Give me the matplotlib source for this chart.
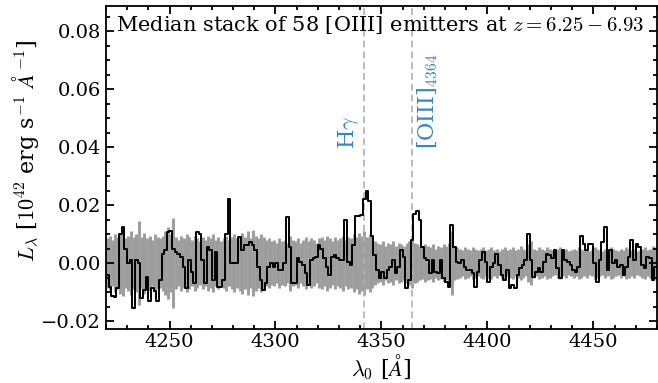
import numpy as np
import matplotlib
matplotlib.use("Agg")
import matplotlib.pyplot as plt
from matplotlib.ticker import MultipleLocator

plt.rcParams['font.family'] = ['DejaVu Serif']
plt.rcParams['mathtext.fontset'] = 'cm'

# stacked spectrum, rest-frame, 1.25 A bins starting at 4220.6 A
wave_start = 4220.6
wave_step = 1.25

flux = [
    -0.0041, -0.0083, -0.0115, -0.0118, -0.0086, 0.0101, 0.0124, 0.0050, 0.0000, 0.0010,
    -0.0155, 0.0010, 0.0000, -0.0120, -0.0092, -0.0047, -0.0132, -0.0086, -0.0098, -0.0132,
    -0.0058, 0.0033, 0.0044, 0.0107, 0.0112, 0.0050, 0.0039, 0.0033, 0.0022, -0.0013,
    -0.0086, 0.0010, -0.0030, -0.0069, 0.0107, 0.0101, 0.0010, -0.0069, 0.0056, 0.0044,
    -0.0058, 0.0039, -0.0081, -0.0081, -0.0058, 0.0101, 0.0220, 0.0000, 0.0000, 0.0000,
    0.0090, 0.0044, 0.0061, 0.0061, 0.0073, 0.0061, 0.0044, -0.0013, -0.0058, -0.0092,
    -0.0069, -0.0013, 0.0000, -0.0013, 0.0000, -0.0024, -0.0024, 0.0000, 0.0158, 0.0056,
    -0.0069, -0.0069, 0.0016, 0.0005, -0.0007, -0.0035, -0.0075, 0.0010, 0.0016, 0.0022,
    0.0061, 0.0050, 0.0016, -0.0013, -0.0041, 0.0022, 0.0027, 0.0016, 0.0010, 0.0010,
    0.0147, 0.0005, -0.0007, 0.0061, 0.0164, 0.0164, 0.0165, 0.0220, 0.0249, 0.0215,
    0.0095, 0.0027, -0.0024, -0.0052, -0.0030, -0.0052, -0.0024, -0.0013, 0.0010, -0.0035,
    -0.0013, 0.0044, 0.0022, -0.0086, -0.0058, 0.0078, 0.0169, 0.0180, 0.0147, 0.0056,
    0.0016, 0.0010, -0.0035, 0.0010, -0.0030, -0.0035, 0.0010, -0.0052, -0.0064, -0.0081,
    0.0130, 0.0056, 0.0005, -0.0001, 0.0010, -0.0013, -0.0024, -0.0024, -0.0035, -0.0081,
    -0.0030, 0.0010, 0.0039, 0.0005, -0.0064, -0.0015, 0.0000, 0.0033, -0.0007, -0.0041,
    -0.0058, -0.0024, -0.0086, -0.0075, -0.0086, -0.0041, -0.0018, -0.0007, 0.0010, 0.0101,
    0.0010, -0.0047, -0.0030, -0.0018, -0.0030, 0.0005, 0.0033, 0.0027, 0.0016, 0.0044,
    -0.0018, -0.0052, 0.0044, 0.0010, 0.0005, -0.0007, -0.0024, -0.0030, -0.0013, 0.0095,
    0.0067, 0.0044, 0.0067, 0.0067, 0.0000, -0.0064, 0.0010, 0.0073, 0.0124, -0.0024,
    0.0044, 0.0000, 0.0010, -0.0013, -0.0007, -0.0041, -0.0013, 0.0022, 0.0078, 0.0010,
    0.0067, 0.0056, -0.0007, -0.0018, 0.0022, 0.0016, -0.0058, -0.0013,
]

# 1-sigma noise of the stack (grey band around zero)
err = [
    0.0085, 0.0095, 0.0080, 0.0100, 0.0090, 0.0105, 0.0115, 0.0085, 0.0095, 0.0110,
    0.0090, 0.0100, 0.0145, 0.0090, 0.0105, 0.0085, 0.0095, 0.0080, 0.0100, 0.0090,
    0.0085, 0.0095, 0.0110, 0.0125, 0.0100, 0.0155, 0.0090, 0.0080, 0.0095, 0.0085,
    0.0100, 0.0090, 0.0080, 0.0095, 0.0085, 0.0075, 0.0090, 0.0080, 0.0095, 0.0085,
    0.0100, 0.0080, 0.0090, 0.0075, 0.0085, 0.0095, 0.0080, 0.0090, 0.0100, 0.0085,
    0.0095, 0.0105, 0.0090, 0.0110, 0.0085, 0.0115, 0.0095, 0.0085, 0.0100, 0.0090,
    0.0080, 0.0085, 0.0075, 0.0080, 0.0070, 0.0085, 0.0075, 0.0080, 0.0070, 0.0095,
    0.0080, 0.0075, 0.0085, 0.0070, 0.0080, 0.0090, 0.0075, 0.0085, 0.0080, 0.0070,
    0.0085, 0.0090, 0.0080, 0.0095, 0.0085, 0.0075, 0.0090, 0.0080, 0.0085, 0.0095,
    0.0080, 0.0090, 0.0085, 0.0100, 0.0090, 0.0105, 0.0095, 0.0110, 0.0090, 0.0100,
    0.0085, 0.0075, 0.0070, 0.0065, 0.0075, 0.0060, 0.0070, 0.0065, 0.0075, 0.0060,
    0.0070, 0.0065, 0.0060, 0.0070, 0.0075, 0.0085, 0.0070, 0.0065, 0.0060, 0.0055,
    0.0065, 0.0060, 0.0055, 0.0065, 0.0050, 0.0060, 0.0055, 0.0065, 0.0060, 0.0070,
    0.0110, 0.0060, 0.0055, 0.0050, 0.0045, 0.0055, 0.0050, 0.0045, 0.0055, 0.0050,
    0.0045, 0.0050, 0.0055, 0.0045, 0.0050, 0.0055, 0.0045, 0.0050, 0.0040, 0.0050,
    0.0055, 0.0045, 0.0050, 0.0055, 0.0045, 0.0050, 0.0060, 0.0050, 0.0045, 0.0065,
    0.0075, 0.0050, 0.0045, 0.0055, 0.0050, 0.0045, 0.0055, 0.0050, 0.0045, 0.0040,
    0.0050, 0.0055, 0.0045, 0.0050, 0.0040, 0.0045, 0.0050, 0.0045, 0.0055, 0.0050,
    0.0045, 0.0050, 0.0040, 0.0045, 0.0055, 0.0050, 0.0045, 0.0040, 0.0050, 0.0045,
    0.0055, 0.0050, 0.0045, 0.0040, 0.0050, 0.0045, 0.0055, 0.0050, 0.0045, 0.0050,
    0.0040, 0.0045, 0.0050, 0.0055, 0.0045, 0.0050, 0.0060, 0.0055,
]

line_waves = [4341.69, 4364.44]
line_labels = [r'H$\gamma$', r'[OIII]$_{4364}$']

wave = wave_start + wave_step * np.arange(len(flux))
flux = np.array(flux)
err = np.array(err)

fig = plt.figure(figsize=(6.58, 3.83), dpi=100)
ax = fig.add_axes([0.161, 0.142, 0.8375, 0.842])

ax.vlines(wave, -err, err, color='#9c9c9c', lw=2.1, zorder=1)
ax.plot(wave, flux, drawstyle='steps-mid', color='black', lw=1.4, zorder=3)

for lw_, lab, dx, ha in zip(line_waves, line_labels, [-1.5, 1.5], ['right', 'left']):
    ax.axvline(lw_, color='#b0b0b0', ls=(0, (4, 2.5)), lw=1.2, zorder=2)
    ax.text(lw_ + dx, 0.0395, lab, rotation=90, color='#3686c2', fontsize=16,
            ha=ha, va='bottom')

ax.text(0.018, 0.975, r'Median stack of 58 [OIII] emitters at $z=6.25-6.93$',
        transform=ax.transAxes, ha='left', va='top', fontsize=15)

ax.set_xlim(4220, 4480)
ax.set_ylim(-0.0226, 0.0886)
ax.xaxis.set_major_locator(MultipleLocator(50))
ax.xaxis.set_minor_locator(MultipleLocator(10))
ax.yaxis.set_major_locator(MultipleLocator(0.02))
ax.yaxis.set_minor_locator(MultipleLocator(0.005))
ax.tick_params(which='both', direction='in', top=True, right=True, labelsize=14, width=1.3)
ax.tick_params(which='major', length=6)
ax.tick_params(which='minor', length=3)
for s in ax.spines.values():
    s.set_linewidth(1.3)

ax.set_xlabel(r'$\lambda_0$ [$\AA$]', fontsize=16, labelpad=1)
ax.set_ylabel(r'$L_\lambda$ [$10^{42}$ erg s$^{-1}$ $\AA^{-1}$]', fontsize=16)
ax.yaxis.set_label_coords(-0.118, 0.55)

fig.savefig('out.png', dpi=100)
